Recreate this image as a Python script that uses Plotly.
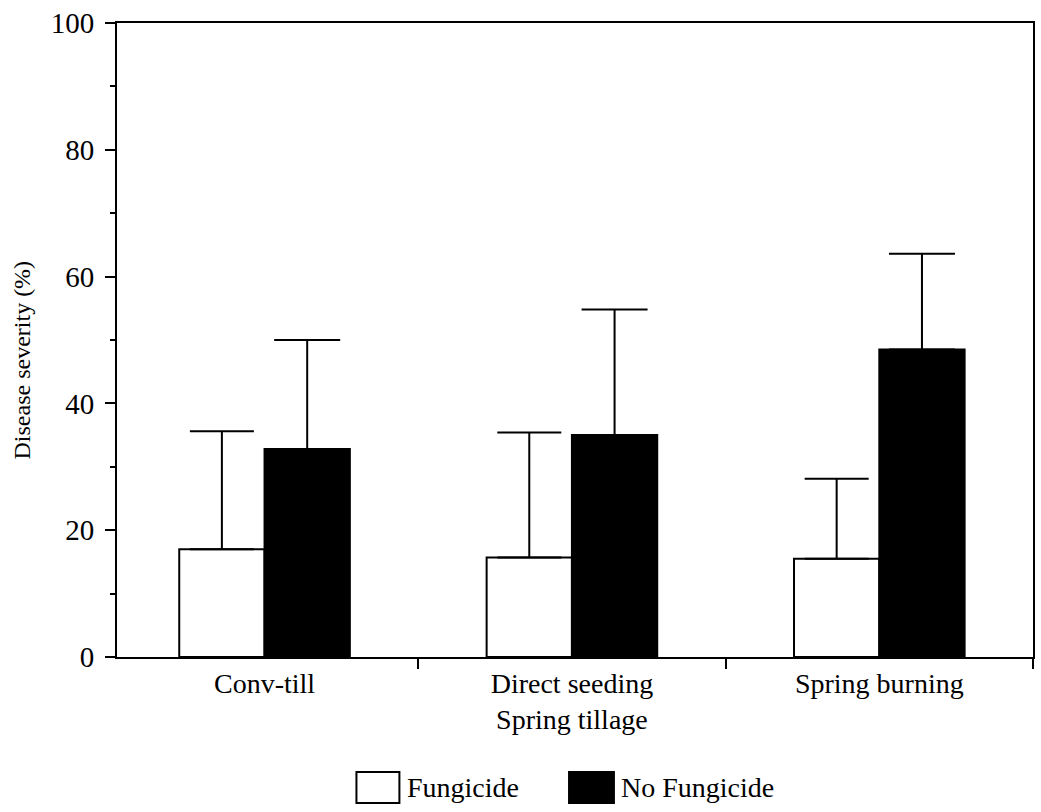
import plotly.graph_objects as go

# Disease severity by tillage system, with and without fungicide
categories = ["Conv-till", "Direct seeding<br>Spring tillage", "Spring burning"]
fungicide = [17.0, 15.7, 15.5]
fungicide_err = [18.6, 19.7, 12.6]
no_fungicide = [32.8, 35.0, 48.5]
no_fungicide_err = [17.2, 19.8, 15.1]

y_ticks = [0, 20, 40, 60, 80, 100]

FONT = "Liberation Serif, Times New Roman, serif"

fig = go.Figure()

fig.add_trace(go.Bar(
    name="Fungicide",
    x=categories,
    y=fungicide,
    marker=dict(color="white", line=dict(color="black", width=2)),
    error_y=dict(type="data", array=fungicide_err, arrayminus=[0] * 3,
                 symmetric=False, color="black", thickness=2, width=32),
    showlegend=False,
))
fig.add_trace(go.Bar(
    name="No Fungicide",
    x=categories,
    y=no_fungicide,
    marker=dict(color="black", line=dict(color="black", width=2)),
    error_y=dict(type="data", array=no_fungicide_err, arrayminus=[0] * 3,
                 symmetric=False, color="black", thickness=2, width=33),
    showlegend=False,
))

# Hand-drawn legend below the axis
legend_items = [
    ("Fungicide", "white", 0.2614, 0.3083),
    ("No Fungicide", "black", 0.4935, 0.5425),
]
for label, fill, x0, x1 in legend_items:
    fig.add_shape(type="rect", xref="paper", yref="paper",
                  x0=x0, x1=x1, y0=-0.2303, y1=-0.1814,
                  fillcolor=fill, line=dict(color="black", width=2))
    fig.add_annotation(xref="paper", yref="paper", x=x1 + 0.006, y=-0.2066,
                       text=label, showarrow=False, xanchor="left",
                       yanchor="middle",
                       font=dict(family=FONT, size=28, color="black"))

# Y-axis title, set slightly below the plot's vertical centre
fig.add_annotation(xref="paper", yref="paper", x=-0.1035, y=0.468,
                   text="Disease severity (%)", textangle=-90,
                   showarrow=False, xanchor="center", yanchor="middle",
                   font=dict(family=FONT, size=24, color="black"))

# Short stub of the y axis below the origin
fig.add_shape(type="line", xref="paper", yref="y", x0=0, x1=0,
              y0=0, y1=-1.7, line=dict(color="black", width=2))

fig.update_layout(
    width=1041,
    height=812,
    margin=dict(l=117, r=6, t=23, b=155),
    plot_bgcolor="white",
    paper_bgcolor="white",
    barmode="group",
    bargap=0.445,
    bargroupgap=0,
    font=dict(family=FONT, size=28, color="black"),
)

fig.update_xaxes(
    type="category",
    range=[-0.48, 2.5],
    showline=True, linecolor="black", linewidth=2, mirror=True,
    ticks="outside", tickson="boundaries", ticklen=10, tickwidth=2,
    tickcolor="black",
    showgrid=False, zeroline=False,
    tickfont=dict(family=FONT, size=28, color="black"),
)

fig.update_yaxes(
    range=[0, 100],
    tickvals=y_ticks,
    showline=True, linecolor="black", linewidth=2, mirror=True,
    ticks="outside", ticklen=10, tickwidth=2, tickcolor="black",
    ticklabelstandoff=5,
    minor=dict(dtick=10, ticks="outside", ticklen=5, tickwidth=2,
               tickcolor="black", showgrid=False),
    showgrid=False, zeroline=False,
    tickfont=dict(family=FONT, size=29, color="black"),
)

fig.write_html("out.html")
